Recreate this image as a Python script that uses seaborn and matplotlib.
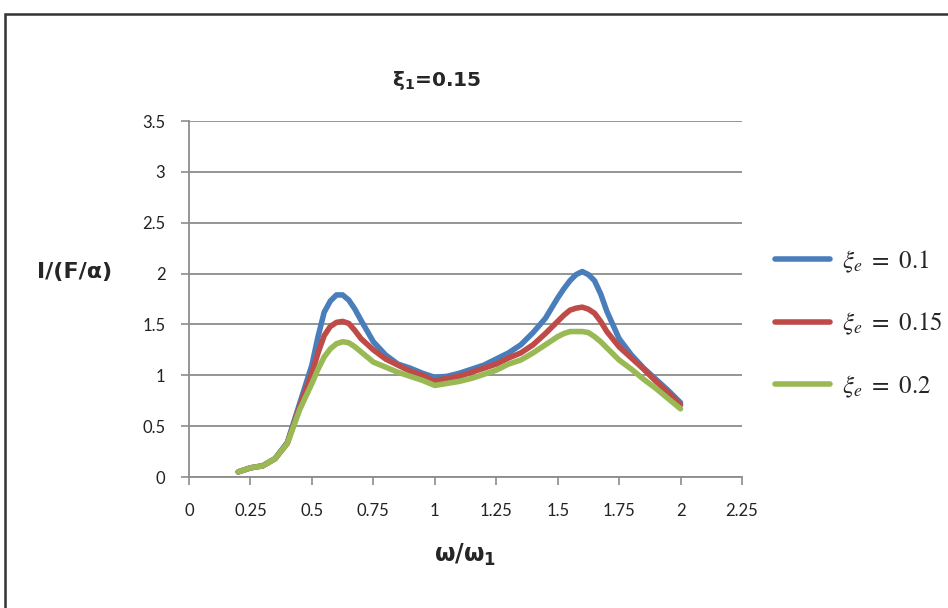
import matplotlib
matplotlib.use('Agg')
import matplotlib.pyplot as plt
from matplotlib.patches import Rectangle
import seaborn as sns
import pandas as pd

# values
ratio = [0.2, 0.25, 0.3, 0.35, 0.4, 0.45, 0.5, 0.525, 0.55, 0.575, 0.6, 0.625, 0.65, 0.675,
         0.7, 0.75, 0.8, 0.85, 0.9, 0.95, 1.0, 1.05, 1.1, 1.15, 1.2, 1.25, 1.3, 1.35, 1.4,
         1.45, 1.5, 1.525, 1.55, 1.575, 1.6, 1.625, 1.65, 1.675, 1.7, 1.75, 1.8, 1.85, 1.9,
         1.95, 2.0]
xi_01 = [0.05, 0.09, 0.11, 0.18, 0.34, 0.72, 1.10, 1.38, 1.62, 1.73, 1.79, 1.79, 1.74, 1.65,
         1.54, 1.33, 1.20, 1.11, 1.07, 1.02, 0.98, 0.99, 1.02, 1.06, 1.10, 1.16, 1.22, 1.30, 1.42,
         1.56, 1.76, 1.85, 1.93, 1.99, 2.02, 1.99, 1.93, 1.80, 1.63, 1.36, 1.20, 1.07, 0.96,
         0.85, 0.73]
xi_015 = [0.05, 0.09, 0.11, 0.18, 0.33, 0.69, 1.02, 1.22, 1.39, 1.48, 1.52, 1.53, 1.51, 1.44,
          1.36, 1.25, 1.16, 1.10, 1.04, 1.00, 0.94, 0.97, 0.99, 1.03, 1.07, 1.11, 1.17, 1.22, 1.30,
          1.41, 1.53, 1.59, 1.64, 1.66, 1.67, 1.65, 1.61, 1.53, 1.43, 1.28, 1.17, 1.06, 0.94,
          0.83, 0.71]
xi_02 = [0.05, 0.09, 0.11, 0.18, 0.33, 0.66, 0.92, 1.06, 1.18, 1.26, 1.31, 1.33, 1.32, 1.28,
         1.23, 1.13, 1.08, 1.03, 0.99, 0.95, 0.90, 0.92, 0.94, 0.97, 1.01, 1.05, 1.11, 1.15, 1.22,
         1.30, 1.38, 1.41, 1.43, 1.43, 1.43, 1.42, 1.38, 1.33, 1.27, 1.15, 1.06, 0.96, 0.87,
         0.77, 0.67]
labels = [r'$\xi_e\ =\ 0.1$', r'$\xi_e\ =\ 0.15$', r'$\xi_e\ =\ 0.2$']
colors = ['#4a7ebb', '#be4b48', '#98b954']

frames = []
for lab, vals in zip(labels, [xi_01, xi_015, xi_02]):
    frames.append(pd.DataFrame({'ratio': ratio, 'value': vals, 'series': lab}))
df = pd.concat(frames, ignore_index=True)

sns.set_style('white')
plt.rcParams['font.family'] = ['Lato', 'DejaVu Sans']
plt.rcParams['mathtext.fontset'] = 'stix'

fig = plt.figure(figsize=(9.48, 6.08), dpi=100)
ax = fig.add_axes([189 / 948, 1 - 477 / 608, (742 - 189) / 948, (477 - 121) / 608])

sns.lineplot(data=df, x='ratio', y='value', hue='series', palette=colors,
             linewidth=4, ax=ax, sort=False, solid_capstyle='round', solid_joinstyle='round')

ax.set_xlim(0, 2.25)
ax.set_ylim(0, 3.5)
ax.set_xticks([0, 0.25, 0.5, 0.75, 1, 1.25, 1.5, 1.75, 2, 2.25])
ax.set_xticklabels(['0', '0.25', '0.5', '0.75', '1', '1.25', '1.5', '1.75', '2', '2.25'])
ax.set_yticks([0, 0.5, 1, 1.5, 2, 2.5, 3, 3.5])
ax.set_yticklabels(['0', '0.5', '1', '1.5', '2', '2.5', '3', '3.5'])
ax.yaxis.grid(True, color='#8c8c8c', linewidth=1.3)
ax.xaxis.grid(False)
ax.set_axisbelow(True)
for s in ['top', 'right']:
    ax.spines[s].set_visible(False)
for s in ['left', 'bottom']:
    ax.spines[s].set_color('#8c8c8c')
    ax.spines[s].set_linewidth(1.3)
ax.tick_params(axis='x', direction='out', length=6, width=1.2, color='#8c8c8c',
               labelsize=12, pad=13, labelcolor='#222222')
ax.tick_params(axis='y', direction='out', length=6, width=1.2, color='#8c8c8c',
               labelsize=12, pad=11, labelcolor='#222222')
ax.tick_params(bottom=True, left=True)
ax.set_xlabel('')
ax.set_ylabel('')

handles, labs = ax.get_legend_handles_labels()
ax.legend(handles, labs, loc='center left', bbox_to_anchor=(775 / 948, 1 - 324 / 608),
          bbox_transform=fig.transFigure, frameon=False, fontsize=18, borderpad=0,
          handlelength=2.2, handletextpad=0.5, labelspacing=1.45, borderaxespad=0)

fig.text(437 / 948, 1 - 80 / 608, r'$\mathbf{\xi_1}$' + '=0.15', ha='center', va='center',
         fontsize=14.5, fontweight='bold', family='DejaVu Sans', math_fontfamily='dejavusans')
fig.text(75 / 948, 1 - 272 / 608, 'I/(F/α)', ha='center', va='center',
         fontsize=16, fontweight='bold', family='DejaVu Sans')
fig.text(465 / 948, 1 - 555 / 608, r'$\mathbf{\omega/\omega_1}$', ha='center', va='center',
         fontsize=17, fontweight='bold', family='DejaVu Sans', math_fontfamily='dejavusans')

fig.patches.append(Rectangle((5 / 948, -0.1), 1.1, 1 - 14 / 608 + 0.1,
                             transform=fig.transFigure, fill=False,
                             edgecolor='#333333', linewidth=1.8))

fig.savefig('out.png', dpi=100)
